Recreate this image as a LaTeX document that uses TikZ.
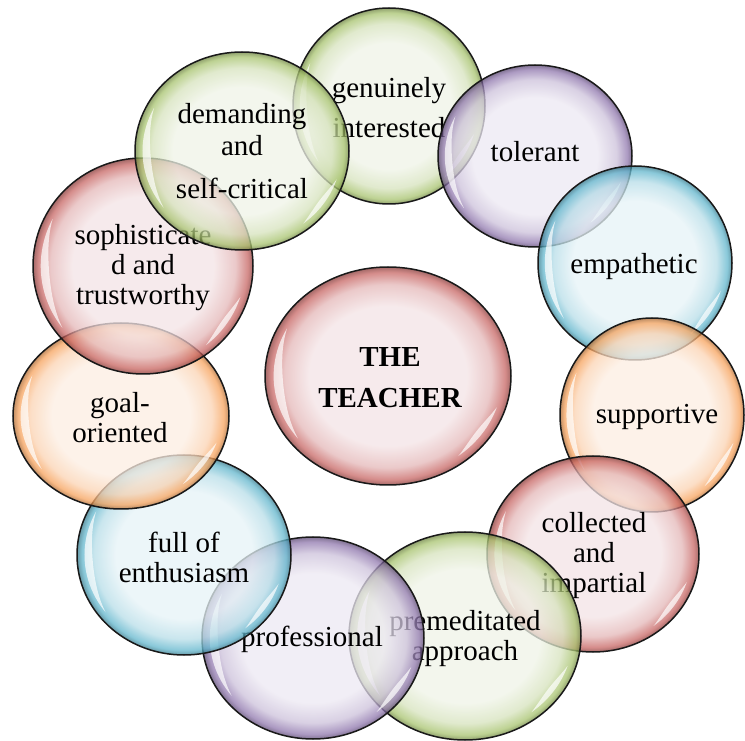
\documentclass[tikz,border=0pt]{standalone}
\usepackage{fontspec}
\setmainfont{Liberation Serif}
\usetikzlibrary{shapes.geometric}

\definecolor{gnB}{RGB}{155,187,89}\definecolor{gnP}{RGB}{240,244,232}
\definecolor{puB}{RGB}{128,100,162}\definecolor{puP}{RGB}{237,233,243}
\definecolor{aqB}{RGB}{75,172,198}\definecolor{aqP}{RGB}{230,243,247}
\definecolor{orB}{RGB}{247,150,70}\definecolor{orP}{RGB}{253,238,226}
\definecolor{rdB}{RGB}{192,80,77}\definecolor{rdP}{RGB}{244,228,230}

\pgfdeclareradialshading{bubgreen}{\pgfpoint{0bp}{0bp}}{color(0bp)=(gnP); color(16bp)=(gnP); color(21bp)=(gnB!30!gnP); color(23.8bp)=(gnB!85!gnP); color(25bp)=(gnB!70!black); color(50bp)=(gnB!70!black)}
\pgfdeclareradialshading{bubpurple}{\pgfpoint{0bp}{0bp}}{color(0bp)=(puP); color(16bp)=(puP); color(21bp)=(puB!30!puP); color(23.8bp)=(puB!85!puP); color(25bp)=(puB!70!black); color(50bp)=(puB!70!black)}
\pgfdeclareradialshading{bubaqua}{\pgfpoint{0bp}{0bp}}{color(0bp)=(aqP); color(16bp)=(aqP); color(21bp)=(aqB!30!aqP); color(23.8bp)=(aqB!85!aqP); color(25bp)=(aqB!70!black); color(50bp)=(aqB!70!black)}
\pgfdeclareradialshading{buborange}{\pgfpoint{0bp}{0bp}}{color(0bp)=(orP); color(16bp)=(orP); color(21bp)=(orB!30!orP); color(23.8bp)=(orB!85!orP); color(25bp)=(orB!70!black); color(50bp)=(orB!70!black)}
\pgfdeclareradialshading{bubred}{\pgfpoint{0bp}{0bp}}{color(0bp)=(rdP); color(16bp)=(rdP); color(21bp)=(rdB!30!rdP); color(23.8bp)=(rdB!85!rdP); color(25bp)=(rdB!70!black); color(50bp)=(rdB!70!black)}

\tikzset{
  bub/.style={ellipse, inner sep=0pt, draw=black!90, line width=1.5pt, shade, fill opacity=0.75, text opacity=1},
  hl/.style={fill=white, fill opacity=0.7},
  lbl/.style={align=center, inner sep=0pt, text=black, font=\fontsize{29}{30}\selectfont},
}

% name, x, y, rx, ry, shading
\newcommand\mybub[6]{%
  \node[bub, shading=#6, minimum width={#4*2pt}, minimum height={#5*2pt}] (#1) at (#2,#3) {};
  \begin{scope}[shift={(#2,#3)}]
    \fill[hl] plot[domain=152:218, samples=25] ({0.93*#4*cos(\x)},{0.93*#5*sin(\x)})
      -- plot[domain=218:152, samples=25] ({(0.93-0.075*sin(180*(\x-152)/66))*#4*cos(\x)},{(0.93-0.075*sin(180*(\x-152)/66))*#5*sin(\x)}) -- cycle;
    \fill[hl] plot[domain=-52:-18, samples=20] ({0.93*#4*cos(\x)},{0.93*#5*sin(\x)})
      -- plot[domain=-18:-52, samples=20] ({(0.93-0.05*sin(180*(\x+52)/34))*#4*cos(\x)},{(0.93-0.05*sin(180*(\x+52)/34))*#5*sin(\x)}) -- cycle;
  \end{scope}
}

\begin{document}
\begin{tikzpicture}[x=1pt,y=1pt]
\useasboundingbox (0,0) rectangle (745,740);
\fill[white] (0,0) rectangle (745,740);

% centre
\mybub{ctr}{388}{364}{123}{109}{bubred}
\node[lbl, font=\fontsize{29}{41}\selectfont\bfseries] (tctr) at (390,362) {THE\\TEACHER};

\mybub{b1}{389}{634}{96}{98}{bubgreen}
\node[lbl] (t1) at (389,632) {genuinely\\[10pt]interested};

\mybub{b2}{535}{584}{97}{91}{bubpurple}
\node[lbl] (t2) at (535,588) {tolerant};

\mybub{b3}{635}{477}{97}{97}{bubaqua}
\node[lbl] (t3) at (634,473) {empathetic};

\mybub{b4}{652}{325}{92}{97}{buborange}
\node[lbl] (t4) at (657,323) {supportive};

\mybub{b5}{593}{186}{106}{98}{bubred}
\node[lbl] (t5) at (594,184) {collected\\and\\impartial};

\mybub{b6}{465}{104}{116}{104}{bubgreen}
\node[lbl] (t6) at (465,101) {premeditated\\approach};

\mybub{b7}{313}{102}{111}{101}{bubpurple}
\node[lbl] (t7) at (312,101) {professional};

\mybub{b8}{184}{185}{107}{100}{bubaqua}
\node[lbl] (t8) at (184,183) {full of\\enthusiasm};

\mybub{b9}{121}{324}{108}{93}{buborange}
\node[lbl] (t9) at (120,322) {goal-\\oriented};

\mybub{b10}{143}{474}{110}{108}{bubred}
\node[lbl] (t10) at (143,472) {sophisticate\\d and\\trustworthy};

\mybub{b11}{242}{589}{107}{99}{bubgreen}
\node[lbl] (t11) at (242,589) {demanding\\[2pt]and\\[13pt]self-critical};

\end{tikzpicture}
\end{document}
